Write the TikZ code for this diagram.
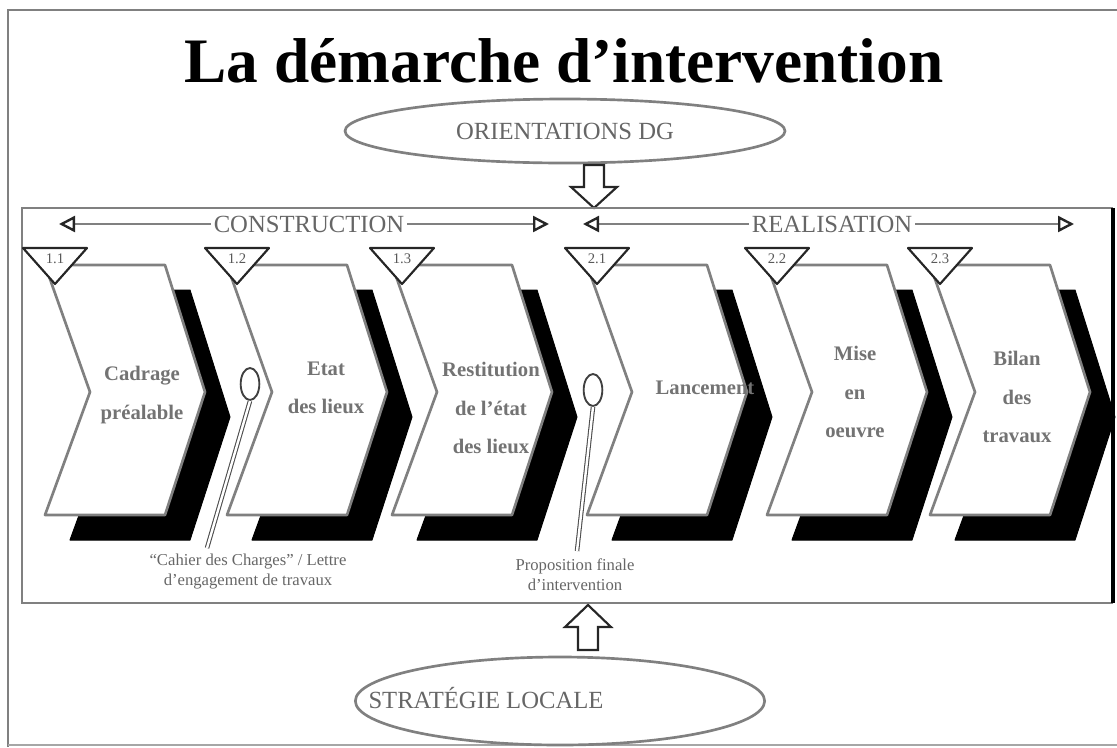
\documentclass[tikz,border=0pt]{standalone}
\usepackage{fontspec}
\setmainfont{Liberation Serif}
\usetikzlibrary{arrows.meta,shapes.geometric}

\tikzset{every picture/.style={line width=0.75pt}}
\tikzset{
  frameline/.style={draw=gray, line width=2pt},
  chevron/.style={draw=gray, line width=2pt, fill=white, line join=round},
  chevshadow/.style={draw=black, fill=black, line join=round},
  steptri/.style={draw=black!85, line width=1.6pt, fill=white, line join=round},
  steplabel/.style={text=black!65, font=\fontsize{11}{12}\selectfont},
  stepname/.style={text=black!55, font=\bfseries\fontsize{15.5}{29}\selectfont, align=center},
  capsname/.style={text=black!60, font=\fontsize{18.5}{20}\selectfont, inner xsep=2pt, inner ysep=0pt},
  phasearrow/.style={draw=gray, line width=1.8pt, -{Triangle[open, length=12pt, width=12pt, color=black!85]}},
  oval/.style={ellipse, draw=gray, line width=2pt, inner sep=0pt},
  hollow/.style={draw=black!85, line width=1.6pt, fill=white, line join=miter},
  ring/.style={ellipse, draw=black!75, line width=1.4pt, minimum width=14pt, minimum height=24pt, inner sep=0pt},
  stick/.style={draw=black!70, line width=0.8pt, double=white, double distance=1.8pt},
  caption/.style={text=black!60, font=\fontsize{12.5}{15}\selectfont, align=center}
}

\begin{document}
\begin{tikzpicture}[x=0.75pt,y=0.75pt,yscale=-1,xscale=1]
\useasboundingbox (0,0) rectangle (1117,747);

%Outer frame
\draw[frameline] (1117,10) -- (8,10) -- (8,747);
\draw[draw=gray!70, line width=1pt] (8,745) -- (1117,745);

% Title
\node[anchor=base, font=\bfseries\fontsize{47.5}{50}\selectfont] (title) at (564,82) {La démarche d’intervention};

% Orientations
\node[oval, minimum width=330pt, minimum height=48pt, capsname] (orient) at (565,131) {ORIENTATIONS DG};
\coordinate (dgtip) at (594,208);
\draw[hollow] (dgtip) -- ++(-23,-21) -- ++(13,0) -- ++(0,-22) -- ++(20,0) -- ++(0,22) -- ++(13,0) -- cycle;

%Inner frame
\draw[frameline] (1113,603) -- (22,603) -- (22,208) -- (1113,208);
\draw[line width=2.4pt] (1113,208) -- (1113,603);

% Phases
\node[capsname] (constr) at (309,224) {CONSTRUCTION};
\coordinate (constrL) at (59,224);
\coordinate (constrR) at (549,224);
\draw[phasearrow] (constr.west) -- (constrL);
\draw[phasearrow] (constr.east) -- (constrR);

\node[capsname] (real) at (832,224) {REALISATION};
\coordinate (realL) at (583,224);
\coordinate (realR) at (1074,224);
\draw[phasearrow] (real.west) -- (realL);
\draw[phasearrow] (real.east) -- (realR);

%Shape: Chevrons with shadow
\foreach \L/\num/\dx/\dy/\txt [count=\i] in {
    45/1.1/97/395/{Cadrage\\préalable},
    227/1.2/99/388/{Etat\\des lieux},
    392/1.3/99/408/{Restitution\\de l’état\\des lieux},
    587/2.1/118/388/{Lancement},
    767/2.2/88/392/{Mise\\en\\oeuvre},
    930/2.3/87/397/{Bilan\\des\\travaux}}{
  \draw[chevshadow] (\L+25,290) -- (\L+145,290) -- (\L+185,417) -- (\L+145,540) -- (\L+25,540) -- (\L+70,417) -- cycle;
  \draw[chevron] (\L,265) -- (\L+120,265) -- (\L+160,392) -- (\L+120,515) -- (\L,515) -- (\L+45,392) -- cycle;
  \draw[steptri] (\L-22,248) -- (\L+42,248) -- (\L+10,284) -- cycle;
  \node[steplabel] (num\i) at (\L+10,259) {\num};
  \node[stepname] (step\i) at (\L+\dx,\dy) {\txt};
}

%Pins
\node[ring] (pinA) at (250,384) {};
\coordinate (pinAend) at (207,548);
\draw[stick] (pinA.south) -- (pinAend);
\node[caption] (capA) at (248,572) {“Cahier des Charges” / Lettre\\d’engagement de travaux};

\node[ring] (pinB) at (593,390) {};
\coordinate (pinBend) at (577,551);
\draw[stick] (pinB.south) -- (pinBend);
\node[caption] (capB) at (575,575) {Proposition finale\\d’intervention};

% Strategie locale
\coordinate (sltip) at (588,605);
\draw[hollow] (sltip) -- ++(-23,22) -- ++(13,0) -- ++(0,23) -- ++(20,0) -- ++(0,-23) -- ++(13,0) -- cycle;
\node[oval, minimum width=307pt, minimum height=66pt] (strat) at (560,701) {};
\node[capsname, anchor=west, inner xsep=0pt] (strattxt) at (368,698) {STRATÉGIE LOCALE};

\end{tikzpicture}
\end{document}
